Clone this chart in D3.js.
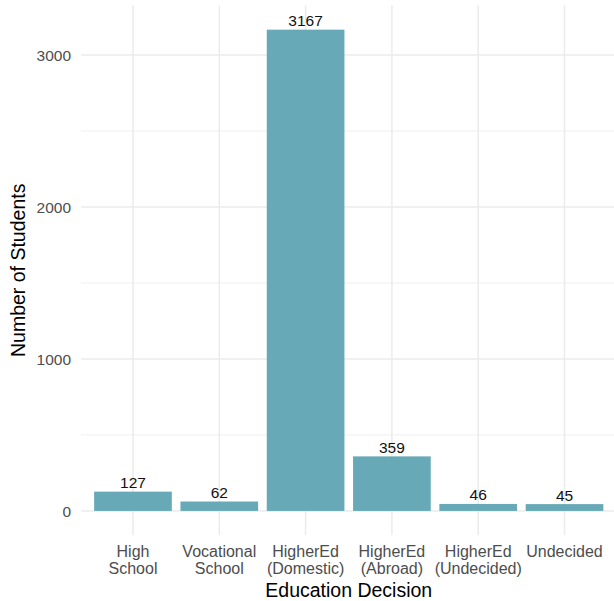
<!DOCTYPE html>
<html>
<head>
<meta charset="utf-8">
<script src="https://cdn.jsdelivr.net/npm/d3@7"></script>
<style>
  html, body { margin: 0; padding: 0; background: #fff; }
  svg { display: block; }
  text { font-family: "Liberation Sans", Arial, Helvetica, sans-serif; }
</style>
</head>
<body>
<svg id="chart" width="614" height="601"></svg>
<script>
const categories = ["High School", "Vocational School", "HigherEd (Domestic)", "HigherEd (Abroad)", "HigherEd (Undecided)", "Undecided"];
const tickLines = [["High", "School"], ["Vocational", "School"], ["HigherEd", "(Domestic)"], ["HigherEd", "(Abroad)"], ["HigherEd", "(Undecided)"], ["Undecided"]];
const counts = [127, 62, 3167, 359, 46, 45];
const yMajorTicks = [0, 1000, 2000, 3000];
const yMinorTicks = [500, 1500, 2500];
const xTitle = "Education Decision";
const yTitle = "Number of Students";

const svg = d3.select("#chart");
const W = 614, H = 601;
const panel = { left: 81.2, right: 616.3, top: 5.6, bottom: 535 };

const maxV = d3.max(counts);
const pad = maxV * 0.05;
const y = d3.scaleLinear().domain([-pad, maxV + pad]).range([panel.bottom, panel.top]);
const x = d3.scaleBand().domain(categories).range([panel.left, panel.right])
  .paddingInner(0.1).paddingOuter(0.15);

const grid = svg.append("g");
grid.selectAll("line.minor").data(yMinorTicks).enter().append("line")
  .attr("x1", panel.left).attr("x2", panel.right)
  .attr("y1", d => y(d)).attr("y2", d => y(d))
  .attr("stroke", "#EBEBEB").attr("stroke-width", 0.8);
grid.selectAll("line.major").data(yMajorTicks).enter().append("line")
  .attr("x1", panel.left).attr("x2", panel.right)
  .attr("y1", d => y(d)).attr("y2", d => y(d))
  .attr("stroke", "#EBEBEB").attr("stroke-width", 1.5);
grid.selectAll("line.vx").data(categories).enter().append("line")
  .attr("x1", d => x(d) + x.bandwidth() / 2).attr("x2", d => x(d) + x.bandwidth() / 2)
  .attr("y1", panel.top).attr("y2", panel.bottom)
  .attr("stroke", "#EBEBEB").attr("stroke-width", 1.5);

svg.append("g").selectAll("rect").data(counts).enter().append("rect")
  .attr("x", (d, i) => x(categories[i]))
  .attr("width", x.bandwidth())
  .attr("y", d => y(d))
  .attr("height", d => y(0) - y(d))
  .attr("fill", "#67A9B7");

svg.append("g").selectAll("text").data(counts).enter().append("text")
  .attr("x", (d, i) => x(categories[i]) + x.bandwidth() / 2)
  .attr("y", d => y(d) - 3.5)
  .attr("text-anchor", "middle")
  .attr("font-size", "15.5px")
  .attr("fill", "#111")
  .text(d => d);

svg.append("g").selectAll("text").data(yMajorTicks).enter().append("text")
  .attr("x", 71)
  .attr("y", d => y(d))
  .attr("dy", "0.36em")
  .attr("text-anchor", "end")
  .attr("font-size", "15.5px")
  .attr("fill", "#4D4D4D")
  .text(d => d);

const xt = svg.append("g").selectAll("text").data(categories).enter().append("text")
  .attr("x", d => x(d) + x.bandwidth() / 2)
  .attr("y", 557)
  .attr("text-anchor", "middle")
  .attr("font-size", "16px")
  .attr("fill", "#4D4D4D");
xt.each(function (d, i) {
  const t = d3.select(this);
  const cx = x(d) + x.bandwidth() / 2;
  tickLines[i].forEach((line, j) => {
    t.append("tspan").attr("x", cx).attr("y", 557 + j * 17).text(line);
  });
});

svg.append("text")
  .attr("x", (panel.left + panel.right) / 2)
  .attr("y", 597)
  .attr("text-anchor", "middle")
  .attr("font-size", "19.5px")
  .attr("fill", "#000")
  .text(xTitle);

svg.append("text")
  .attr("transform", `translate(25, ${(panel.top + panel.bottom) / 2}) rotate(-90)`)
  .attr("text-anchor", "middle")
  .attr("font-size", "19.5px")
  .attr("fill", "#000")
  .text(yTitle);
</script>
</body>
</html>
